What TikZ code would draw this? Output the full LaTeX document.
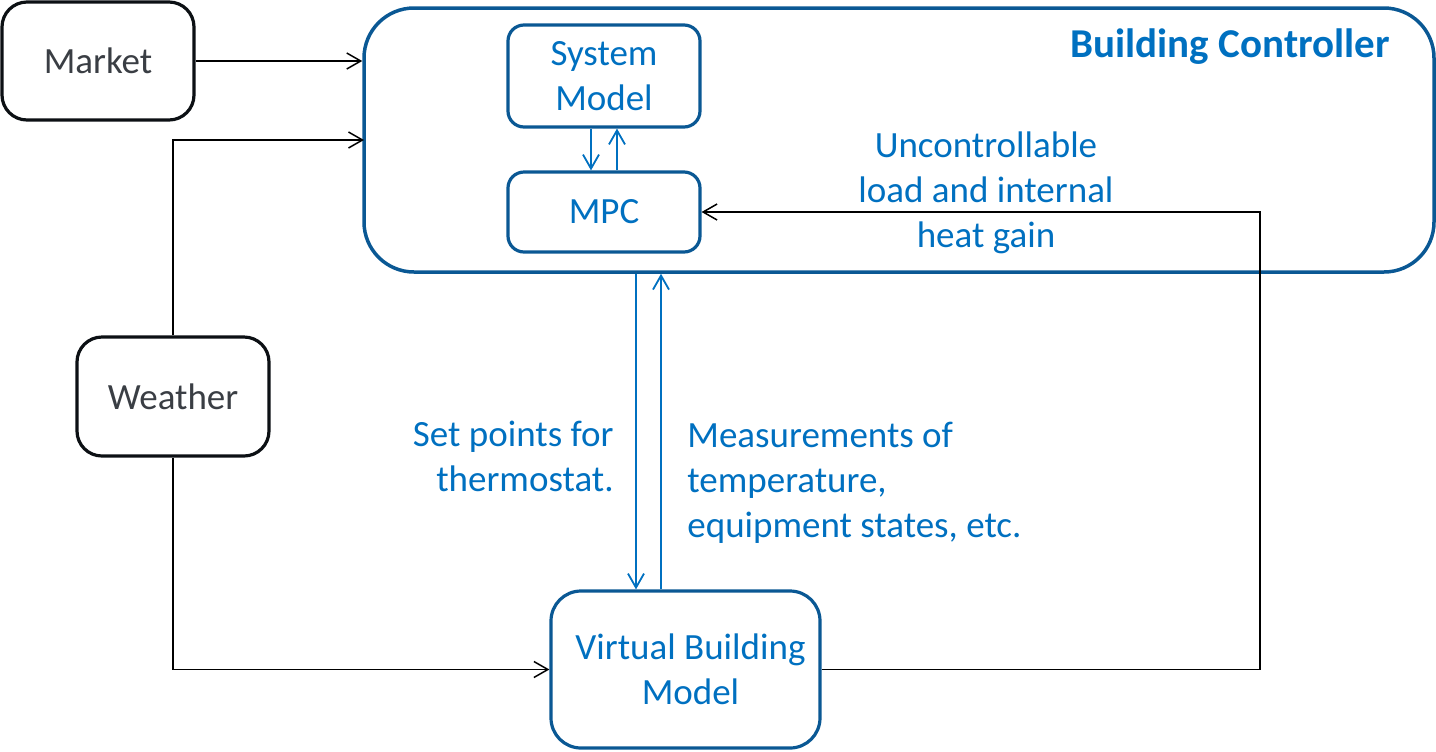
\documentclass[tikz,border=0pt]{standalone}
\usepackage{fontspec}
\setmainfont{Carlito}
\usetikzlibrary{arrows.meta}
\definecolor{boxblue}{RGB}{10,88,148}
\definecolor{txtblue}{RGB}{0,112,192}
\definecolor{txtgray}{RGB}{58,62,68}
\definecolor{boxblack}{RGB}{12,16,20}
\begin{document}
\begin{tikzpicture}[x=0.5pt,y=-0.5pt,
  lbl/.style={font=\fontsize{18.5}{22.5}\selectfont, text=txtblue, inner sep=0pt},
  blackbox/.style={draw=boxblack, line width=1.6pt, rounded corners=12.5pt, inner sep=0pt,
    text=txtgray, font=\fontsize{18.5}{22.5}\selectfont, align=center},
  bluebox/.style={draw=boxblue, line width=1.6pt, rounded corners=8pt, inner sep=0pt,
    text=txtblue, font=\fontsize{18.5}{22.5}\selectfont, align=center},
  arr/.style={draw=black, line width=0.75pt, -{Straight Barb[length=7pt,width=8pt,line width=0.75pt]}},
  barr/.style={draw=txtblue, line width=0.9pt, -{Straight Barb[length=7pt,width=8pt,line width=0.9pt]}}
]
\useasboundingbox (0,0) rectangle (1436,751);

\node[blackbox, minimum width=96pt, minimum height=59pt] (market) at (98,61) {Market};
\node[blackbox, minimum width=96pt, minimum height=59.5pt] (weather) at (173,396.5) {Weather};
\node[bluebox, line width=1.75pt, rounded corners=25pt, minimum width=535pt, minimum height=132pt] (bc) at (899,140) {};
\node[bluebox, minimum width=96pt, minimum height=51pt] (sm) at (604,76) {System\\Model};
\node[bluebox, minimum width=96pt, minimum height=40pt] (mpc) at (604,212) {MPC};
\node[bluebox, rounded corners=15pt, minimum width=134.5pt, minimum height=78.5pt] (vbm) at (685.5,669.5) {\hspace*{5pt}Virtual Building\\\hspace*{5pt}Model};

\node[font=\bfseries\fontsize{20.5}{24}\selectfont, text=txtblue, inner sep=0pt, anchor=east] (title) at (1390,47) {Building Controller};
\node[lbl, align=center] (unc) at (986,193) {Uncontrollable\\load and internal\\heat gain};
\node[lbl, align=right, anchor=east] (setp) at (614,456) {Set points for\\thermostat.};
\node[lbl, align=left, anchor=west] (meas) at (687,483) {Measurements of\\temperature,\\equipment states, etc.};

\coordinate (w1) at (364,140);
\coordinate (c1) at (1260,212);
\coordinate (x1) at (636,0);
\coordinate (x2) at (661,0);

\draw[arr] (market.east) -- (market.east -| bc.west);
\draw[arr] (weather.north) |- (w1);
\draw[arr] (weather.south) |- (vbm.west);
\draw[arr] (vbm.east) -| (c1) -- (mpc.east);

\draw[barr] ([xshift=-6.5pt]sm.south) -- ([xshift=-6.5pt]mpc.north);
\draw[barr] ([xshift=6.5pt]mpc.north) -- ([xshift=6.5pt]sm.south);
\draw[barr] (bc.south -| x1) -- (vbm.north -| x1);
\draw[barr] (vbm.north -| x2) -- (bc.south -| x2);
\end{tikzpicture}
\end{document}
